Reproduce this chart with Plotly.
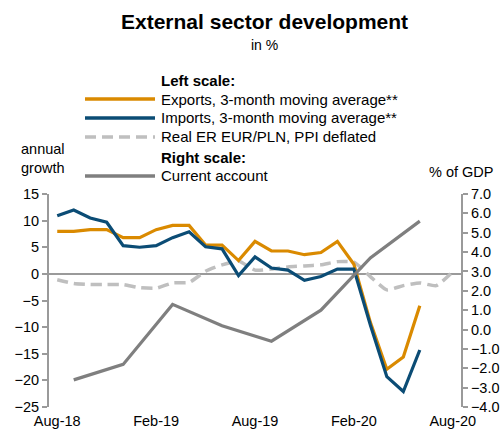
import plotly.graph_objects as go

# Monthly categories, Aug-18 .. Aug-20
months = ["Aug-18", "Sep-18", "Oct-18", "Nov-18", "Dec-18", "Jan-19", "Feb-19",
          "Mar-19", "Apr-19", "May-19", "Jun-19", "Jul-19", "Aug-19", "Sep-19",
          "Oct-19", "Nov-19", "Dec-19", "Jan-20", "Feb-20", "Mar-20", "Apr-20",
          "May-20", "Jun-20", "Jul-20", "Aug-20"]
tick_labels = ["Aug-18", "Feb-19", "Aug-19", "Feb-20", "Aug-20"]

# Left scale: annual growth, %
exports_3m = [8.0, 8.0, 8.3, 8.3, 6.8, 6.8, 8.3, 9.1, 9.1, 5.4, 5.4, 2.5,
              6.1, 4.3, 4.3, 3.6, 4.0, 6.1, 1.8, -9.1, -17.9, -15.6, -6.0]
imports_3m = [10.9, 12.0, 10.5, 9.7, 5.3, 5.0, 5.3, 6.8, 7.9, 5.1, 4.7, -0.3,
              3.2, 1.1, 0.7, -1.2, -0.5, 0.9, 0.9, -9.6, -19.3, -22.1, -14.3]
real_er = [-1.1, -1.8, -2.0, -2.0, -2.0, -2.6, -2.7, -1.7, -1.6, 0.5, 1.7, 2.4,
           0.7, 0.9, 1.3, 1.5, 1.7, 2.3, 2.2, -0.5, -3.0, -2.2, -1.7, -2.2, 0.4]

# Right scale: current account, % of GDP (quarterly)
ca_months = ["Sep-18", "Dec-18", "Mar-19", "Jun-19", "Sep-19", "Dec-19", "Mar-20", "Jun-20"]
current_account = [-2.6, -1.8, 1.3, 0.2, -0.6, 1.0, 3.7, 5.6]

ORANGE = "#DA8A00"
BLUE = "#0B4C75"
LIGHT_GREY = "#BFBFBF"
DARK_GREY = "#7F7F7F"
AXIS_GREY = "#9A9A9A"
FONT = "Liberation Sans, Arial, sans-serif"
DASH = "11px,6px"

fig = go.Figure()
fig.add_trace(go.Scatter(x=months, y=real_er, mode="lines", yaxis="y",
                         line=dict(color=LIGHT_GREY, width=3.5, dash=DASH,
                                   shape="spline", smoothing=0.5)))
fig.add_trace(go.Scatter(x=months[:len(exports_3m)], y=exports_3m, mode="lines", yaxis="y",
                         line=dict(color=ORANGE, width=3.2)))
fig.add_trace(go.Scatter(x=months[:len(imports_3m)], y=imports_3m, mode="lines", yaxis="y",
                         line=dict(color=BLUE, width=3.2)))
fig.add_trace(go.Scatter(x=ca_months, y=current_account, mode="lines", yaxis="y2",
                         line=dict(color=DARK_GREY, width=3.2)))

# Plot-area geometry in pixels (used to place the legend and titles)
W, H = 503, 432
L, R, T, B = 49, 42, 194, 25
PW, PH = W - L - R, H - T - B


def px(x):
    return (x - L) / PW


def py(y):
    return (H - B - y) / PH


# Legend drawn as line samples + labels at the top
legend_rows = [
    ("<b>Left scale:</b>", None, None, 80),
    ("Exports, 3-month moving average**", ORANGE, "solid", 99),
    ("Imports, 3-month moving average**", BLUE, "solid", 118),
    ("Real ER EUR/PLN, PPI deflated", LIGHT_GREY, DASH, 137),
    ("<b>Right scale:</b>", None, None, 157),
    ("Current account", DARK_GREY, "solid", 176),
]
shapes = []
annotations = []
for text, color, dash, ypx in legend_rows:
    if color is not None:
        shapes.append(dict(type="line", xref="paper", yref="paper",
                           x0=px(85), x1=px(155), y0=py(ypx), y1=py(ypx),
                           line=dict(color=color, width=3.5, dash=dash)))
    annotations.append(dict(text=text, xref="paper", yref="paper",
                            x=px(159), y=py(ypx),
                            xanchor="left", yanchor="middle", showarrow=False,
                            font=dict(family=FONT, size=15, color="#000000")))

annotations += [
    dict(text="<b>External sector development</b>", xref="paper", yref="paper",
         x=px(264), y=py(22), xanchor="center", yanchor="middle",
         showarrow=False, font=dict(family=FONT, size=21, color="#000000")),
    dict(text="in %", xref="paper", yref="paper",
         x=px(264), y=py(45), xanchor="center", yanchor="middle",
         showarrow=False, font=dict(family=FONT, size=14, color="#000000")),
    dict(text="annual<br>growth", xref="paper", yref="paper",
         x=px(19), y=py(158), xanchor="left", yanchor="middle",
         align="left", showarrow=False,
         font=dict(family=FONT, size=14.5, color="#000000")),
    dict(text="% of GDP", xref="paper", yref="paper",
         x=px(495), y=py(172), xanchor="right", yanchor="middle",
         showarrow=False, font=dict(family=FONT, size=14.5, color="#000000")),
]

fig.update_layout(
    width=W, height=H,
    margin=dict(l=L, r=R, t=T, b=B, autoexpand=False),
    paper_bgcolor="white", plot_bgcolor="white",
    showlegend=False,
    font=dict(family=FONT, size=14, color="#000000"),
    xaxis=dict(type="category", categoryorder="array", categoryarray=months,
               range=[-0.5, len(months) - 0.5], automargin=False,
               tickmode="array", tickvals=tick_labels, ticktext=tick_labels,
               showgrid=False, showline=False, zeroline=False, ticks="",
               ticklabelstandoff=3, tickfont=dict(size=14.5)),
    yaxis=dict(range=[-25, 15], tickvals=[15, 10, 5, 0, -5, -10, -15, -20, -25],
               automargin=False,
               showgrid=False, zeroline=True, zerolinecolor=AXIS_GREY, zerolinewidth=2,
               showline=True, linecolor=AXIS_GREY, linewidth=2,
               ticks="outside", ticklen=5, tickcolor=AXIS_GREY, tickwidth=1.5,
               tickfont=dict(size=14.5)),
    yaxis2=dict(range=[-4, 7], overlaying="y", side="right", automargin=False,
                tickvals=[7, 6, 5, 4, 3, 2, 1, 0, -1, -2, -3, -4],
                tickformat=".1f",
                showgrid=False, zeroline=False,
                showline=True, linecolor=AXIS_GREY, linewidth=2,
                ticks="outside", ticklen=5, tickcolor=AXIS_GREY, tickwidth=1.5,
                tickfont=dict(size=14.5)),
    shapes=shapes,
    annotations=annotations,
)

fig.write_html("out.html")
